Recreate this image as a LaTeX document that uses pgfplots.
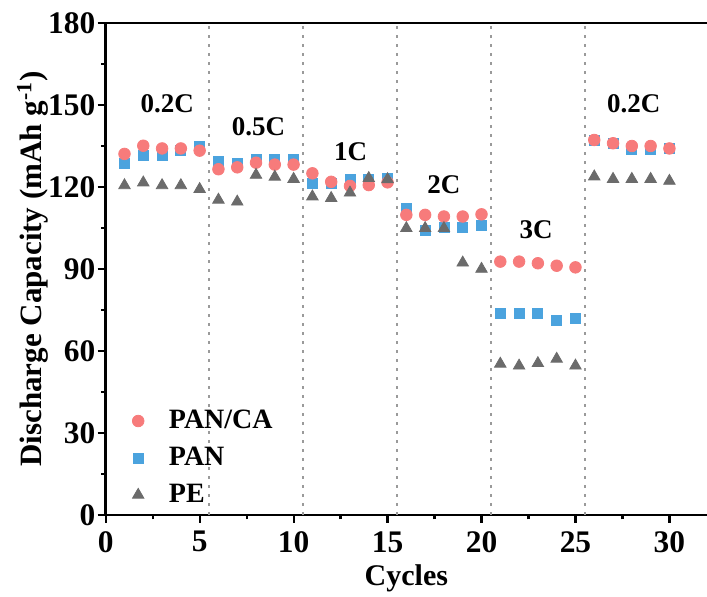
\documentclass[border=0pt]{standalone}
\usepackage{pgfplots}
\pgfplotsset{compat=1.18}
\usepackage{pgfplotstable}
\usepackage{fontspec}
\setmainfont{Liberation Serif}

\definecolor{cared}{HTML}{F77B7B}
\definecolor{panblue}{HTML}{4BA3DE}
\definecolor{pegray}{HTML}{6B6B6B}
\definecolor{sepgray}{HTML}{9A9A9A}

% cycle  capacity (mAh/g)
\pgfplotstableread{
c v
1 132.1
2 135.1
3 134.1
4 134.1
5 133.3
6 126.5
7 127.2
8 128.9
9 128.2
10 128.2
11 125.0
12 121.9
13 120.4
14 120.7
15 121.7
16 109.8
17 109.8
18 109.2
19 109.2
20 110.0
21 92.7
22 92.7
23 92.1
24 91.2
25 90.6
26 137.2
27 136.0
28 135.0
29 135.0
30 134.1
}\pancadata

\pgfplotstableread{
c v
1 128.7
2 131.7
3 131.7
4 133.3
5 134.8
6 129.3
7 128.7
8 130.1
9 130.1
10 130.1
11 121.4
12 121.4
13 122.8
14 122.8
15 123.2
16 112.2
17 104.3
18 105.3
19 105.3
20 106.1
21 73.8
22 73.8
23 73.8
24 71.3
25 72.0
26 137.2
27 136.0
28 133.8
29 133.8
30 134.3
}\pandata

\pgfplotstableread{
c v
1 120.6
2 121.6
3 120.6
4 120.6
5 119.2
6 115.3
7 114.6
8 124.4
9 123.7
10 122.9
11 116.5
12 115.9
13 117.9
14 123.2
15 122.8
16 104.9
17 104.9
18 104.9
19 92.3
20 90.0
21 55.3
22 54.6
23 55.5
24 57.1
25 54.6
26 123.8
27 122.9
28 122.9
29 122.9
30 122.2
}\pedata

\begin{document}
\begin{tikzpicture}
\begin{axis}[
  scale only axis,
  width=300.65pt, height=246pt,
  xmin=0, xmax=32, ymin=0, ymax=180,
  axis x line=box, axis y line=left,
  y axis line style={-},
  axis line style={line width=1.2pt},
  xtick={0,5,...,30}, ytick={0,30,...,180},
  minor x tick num=1, minor y tick num=1,
  xtick pos=left, ytick pos=left,
  tick align=outside,
  major tick length=4pt, minor tick length=2.2pt,
  tick style={line width=1.1pt, black},
  /pgf/number format/assume math mode=true,
  ticklabel style={font=\fontsize{15.7}{18}\selectfont\bfseries, inner sep=1pt},
  xticklabel style={yshift=-3pt},
  xlabel={Cycles},
  ylabel={Discharge Capacity (mAh g\textsuperscript{-1})},
  every axis x label/.style={at={(axis description cs:0.5,-0.128)}, anchor=center,
    font=\fontsize{15}{17}\selectfont\bfseries},
  every axis y label/.style={at={(axis description cs:-0.121,0.5)}, anchor=center, rotate=90,
    font=\fontsize{15.5}{17}\selectfont\bfseries},
  legend image code/.code={\path (-4pt,0pt) (13.2pt,0pt); \draw[#1] plot coordinates {(0pt,0pt)};},
  legend style={draw=none, fill=none, at={(axis description cs:0.0,0.002)}, xshift=8.85pt, anchor=south west,
    font=\fontsize{14}{16}\selectfont\bfseries, row sep=3.75pt},
  legend cell align=left,
  clip=false,
]
% rate-step separators
\foreach \s in {5.5,10.5,15.5,20.5,25.5}{
  \edef\tmp{\noexpand\addplot[sepgray, line width=1pt, dash pattern=on 1.5pt off 3pt, forget plot] coordinates {(\s,0) (\s,180)};}
  \tmp
}
\addlegendimage{only marks, mark=*, mark size=2.9pt, cared, mark options={draw=cared, fill=cared}}
\addlegendentry{PAN/CA}
\addlegendimage{only marks, mark=square*, mark size=2.5pt, panblue, mark options={draw=panblue, fill=panblue}}
\addlegendentry{PAN}
\addlegendimage{only marks, mark=triangle*, mark size=3.3pt, pegray, mark options={draw=pegray, fill=pegray}}
\addlegendentry{PE}

\addplot[only marks, mark=square*, mark size=2.5pt, panblue, mark options={draw=panblue, fill=panblue}, forget plot] table[x=c, y=v] {\pandata};
\addplot[only marks, mark=*, mark size=2.9pt, cared, mark options={draw=cared, fill=cared}, forget plot] table[x=c, y=v] {\pancadata};
\addplot[only marks, mark=triangle*, mark size=3.3pt, pegray, mark options={draw=pegray, fill=pegray}, forget plot] table[x=c, y=v] {\pedata};

\begin{scope}[every node/.style={font=\fontsize{13.5}{15}\selectfont\bfseries}]
\node at (axis cs:3.27,150.4) {0.2C};
\node at (axis cs:8.13,141.9) {0.5C};
\node at (axis cs:13.04,132.8) {1C};
\node at (axis cs:18.0,120.7) {2C};
\node at (axis cs:22.9,104.3) {3C};
\node at (axis cs:28.1,150.4) {0.2C};
\end{scope}

\coordinate (sw) at (rel axis cs:0,0);
\coordinate (ne) at (rel axis cs:1,1);
\end{axis}
\pgfresetboundingbox
\path ([xshift=-52.85pt,yshift=-41pt]sw) rectangle ([yshift=11.5pt]ne);
\end{tikzpicture}
\end{document}
